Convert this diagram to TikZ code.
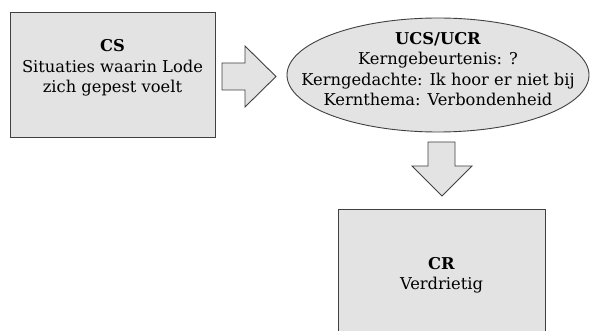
\documentclass[tikz,border=0pt]{standalone}
\usepackage{fontspec}
\setmainfont{DejaVu Serif}
\usetikzlibrary{shapes.geometric}
\definecolor{boxfill}{HTML}{E3E3E3}
\definecolor{boxline}{HTML}{404040}
\begin{document}
\begin{tikzpicture}[x=1pt,y=-1pt,
  shapestyle/.style={draw=boxline, fill=boxfill, line width=0.9pt},
  boxstyle/.style={shapestyle, rectangle, inner sep=0pt},
  txt/.style={align=center, inner sep=0pt, font=\fontsize{16.3}{20.3}\selectfont, text=black}]
\useasboundingbox (0,0) rectangle (592,331);
\clip (0,0) rectangle (592,331);
\node (cs) [boxstyle, minimum width=205pt, minimum height=125pt] at (112.5,74.5) {};
\node (cst) [txt] at (112.5,68) {\textbf{CS}\\Situaties waarin Lode\\zich gepest voelt};
\node (ucs) [shapestyle, ellipse, inner sep=0pt, minimum width=302pt, minimum height=114pt] at (438,75) {};
\node (ucst) [txt] at (438,69) {\textbf{UCS/UCR}\\Kerngebeurtenis: ?\\Kerngedachte: Ik hoor er niet bij\\Kernthema: Verbondenheid};
\node (cr) [boxstyle, minimum width=207pt, minimum height=125pt] at (441.5,271.5) {};
\node (crt) [txt] at (441.5,275) {\textbf{CR}\\Verdrietig};
\draw[shapestyle] (222,63) -- (245,63) -- (245,46) -- (276,76.5) -- (245,107) -- (245,90) -- (222,90) -- cycle;
\draw[shapestyle] (428,142) -- (455,142) -- (455,166) -- (472,166) -- (442,196) -- (412,166) -- (428,166) -- cycle;
\end{tikzpicture}
\end{document}
